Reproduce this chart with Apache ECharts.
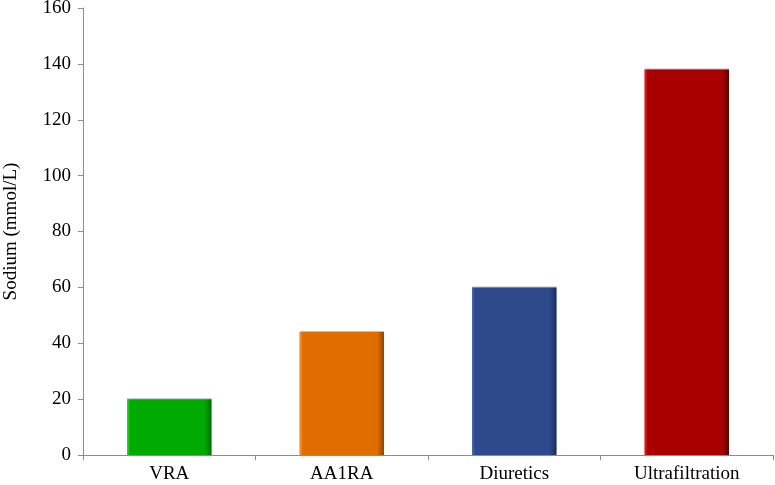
<!DOCTYPE html>
<html>
<head>
<meta charset="utf-8">
<script src="https://cdn.jsdelivr.net/npm/echarts@6/dist/echarts.min.js"></script>
<style>
  html, body { margin: 0; padding: 0; background: #fff; }
  #chart { width: 775px; height: 485px; }
</style>
</head>
<body>
<div id="chart"></div>
<script>
// data
var categories = ['VRA', 'AA1RA', 'Diuretics', 'Ultrafiltration'];
var sodium = [20, 44, 60, 138];
var yTicks = { min: 0, max: 160, step: 20 };

// bevel look: light edge, body, dark edge
var palette = [
    ['#33d633', '#00aa00', '#006f00'],
    ['#ff9a3a', '#df6d00', '#8e4600'],
    ['#4a68b0', '#2e4a8c', '#1a2c57'],
    ['#ee2222', '#a80000', '#5a0000']
];

function bevel(c) {
    return new echarts.graphic.LinearGradient(0, 0, 1, 0, [
        { offset: 0, color: c[0] },
        { offset: 0.04, color: c[1] },
        { offset: 0.92, color: c[1] },
        { offset: 1, color: c[2] }
    ]);
}

var font = '"Liberation Serif", "Times New Roman", serif';
var axisGrey = '#8c8c8c';

var draw = echarts.init(document.getElementById('chart'));
draw.setOption({
    animation: false,
    grid: { left: 83, right: 2, top: 8, bottom: 30, containLabel: false, outerBoundsMode: 'none' },
    xAxis: {
        type: 'category',
        data: categories,
        axisLine: { lineStyle: { color: axisGrey, width: 1 } },
        axisTick: { show: true, length: 5, alignWithLabel: false, lineStyle: { color: axisGrey } },
        axisLabel: { color: '#000', fontFamily: font, fontSize: 19, margin: 10 }
    },
    yAxis: {
        type: 'value',
        min: yTicks.min,
        max: yTicks.max,
        interval: yTicks.step,
        name: 'Sodium (mmol/L)',
        nameLocation: 'middle',
        nameGap: 62,
        nameTextStyle: { color: '#000', fontFamily: font, fontSize: 19 },
        axisLine: { show: true, lineStyle: { color: axisGrey, width: 1 } },
        axisTick: { show: true, length: 5, lineStyle: { color: axisGrey } },
        splitLine: { show: false },
        axisLabel: { color: '#000', fontFamily: font, fontSize: 19, margin: 12 }
    },
    series: [{
        type: 'bar',
        barWidth: '49%',
        data: sodium.map(function (v, i) {
            return {
                value: v,
                itemStyle: {
                    color: bevel(palette[i]),
                    shadowColor: 'rgba(0,0,0,0.25)',
                    shadowOffsetY: -1,
                    shadowBlur: 0
                }
            };
        })
    }]
});
</script>
</body>
</html>
